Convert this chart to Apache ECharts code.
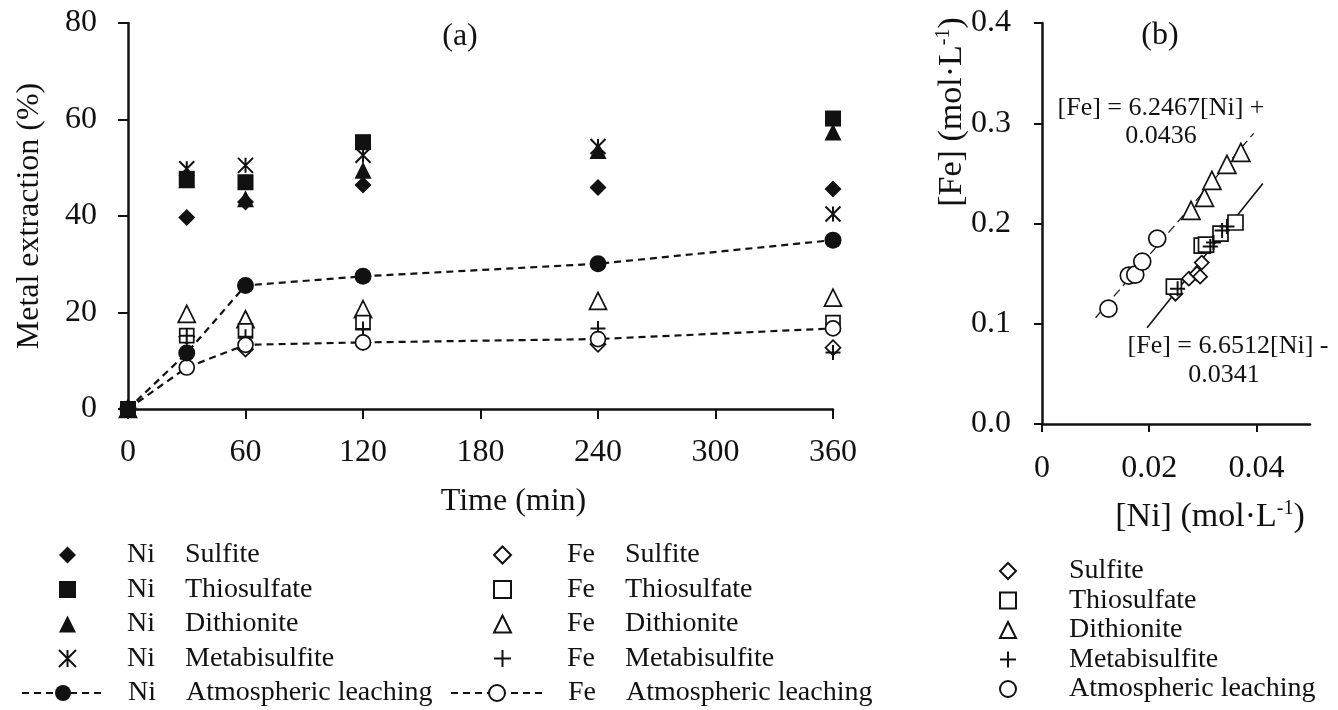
<!DOCTYPE html>
<html>
<head>
<meta charset="utf-8">
<script src="https://cdn.jsdelivr.net/npm/echarts@6/dist/echarts.min.js"></script>
<style>
  html, body { margin: 0; background: #fff; }
  #chart { width: 1338px; height: 710px; }
</style>
</head>
<body>
<div id="chart"></div>
<script>
var FONT = '"Liberation Serif", "Times New Roman", serif';
var INK = '#111';

// (a) metal extraction (%) against time (min)
var timeTicks = [0, 60, 120, 180, 240, 300, 360];
var niSulfite = [[0, 0], [30, 39.7], [60, 42.9], [120, 46.4], [240, 45.9], [360, 45.6]];
var niThiosulfate = [[0, 0], [30, 47.7], [60, 47.0], [120, 55.3], [360, 60.2]];
var niDithionite = [[0, 0], [30, 47.5], [60, 43.6], [120, 49.5], [240, 53.6], [360, 57.4]];
var niMetabisulfite = [[0, 0], [30, 49.8], [60, 50.5], [120, 52.6], [240, 54.4], [360, 40.4]];
var niAtmospheric = [[0, 0], [30, 11.6], [60, 25.6], [120, 27.5], [240, 30.1], [360, 35.0]];
var feSulfite = [[0, 0], [30, 15.0], [60, 12.4], [120, 13.8], [240, 13.4], [360, 12.7]];
var feThiosulfate = [[0, 0], [30, 15.2], [60, 16.2], [120, 17.9], [360, 17.9]];
var feDithionite = [[0, 0], [30, 19.7], [60, 18.6], [120, 20.7], [240, 22.4], [360, 23.1]];
var feMetabisulfite = [[0, 0], [30, 15.2], [60, 15.0], [120, 16.6], [240, 16.7], [360, 11.7]];
var feAtmospheric = [[0, 0], [30, 8.6], [60, 13.3], [120, 13.8], [240, 14.5], [360, 16.7]];

// (b) [Fe] against [Ni], mol/L
var niTicks = [0, 0.02, 0.04];
var bSulfite = [[0.0249, 0.130], [0.0274, 0.145], [0.0289, 0.150], [0.0295, 0.147], [0.0298, 0.161]];
var bThiosulfate = [[0.0246, 0.137], [0.0298, 0.178], [0.0306, 0.179], [0.0333, 0.190], [0.0361, 0.201]];
var bDithionite = [[0.0278, 0.213], [0.0303, 0.226], [0.0317, 0.243], [0.0345, 0.259], [0.0371, 0.271]];
var bMetabisulfite = [[0.0253, 0.135], [0.0314, 0.177], [0.0320, 0.181], [0.0336, 0.193], [0.0345, 0.197]];
var bAtmospheric = [[0.0124, 0.115], [0.0162, 0.148], [0.0174, 0.149], [0.0187, 0.162], [0.0215, 0.185]];
var fitAtmospheric = [[0.0100, 0.106], [0.0395, 0.290]];
var fitOthers = [[0.0196, 0.096], [0.0412, 0.240]];

var ASTERISK = 'path://M0,0L10,10M10,0L0,10M5,0L5,10';
var PLUS = 'path://M5,0L5,10M0,5L10,5';

function marks(name, data, symbol, size, filled, grid) {
  var open = symbol === ASTERISK || symbol === PLUS;
  return {
    name: name, type: 'scatter', data: data,
    xAxisIndex: grid, yAxisIndex: grid,
    symbol: symbol, symbolSize: size,
    itemStyle: open
      ? { color: 'rgba(0,0,0,0)', borderColor: INK, borderWidth: 2, opacity: 1 }
      : (filled ? { color: INK, opacity: 1 } : { color: '#fff', borderColor: INK, borderWidth: 1.7, opacity: 1 }),
    emphasis: { disabled: true }
  };
}

function leach(name, data, filled) {
  return {
    name: name, type: 'line', data: data,
    xAxisIndex: 0, yAxisIndex: 0,
    symbol: 'circle', symbolSize: filled ? 17 : 15, showSymbol: true,
    lineStyle: { color: INK, width: 2.2, type: [7, 5] },
    itemStyle: filled ? { color: INK } : { color: '#fff', borderColor: INK, borderWidth: 1.7 },
    emphasis: { disabled: true }, z: 3
  };
}

function fit(data, dashed) {
  return {
    type: 'line', data: data, xAxisIndex: 1, yAxisIndex: 1,
    showSymbol: false, symbol: 'none', silent: true,
    lineStyle: { color: INK, width: dashed ? 1.2 : 1.6, type: dashed ? [9, 5] : 'solid' },
    z: 1
  };
}

var tickFont = { fontFamily: FONT, fontSize: 32, color: INK };

function legendText(spacer) {
  return {
    formatter: function (name) {
      return '{s| }{m|' + name.slice(0, 2) + '}{n|' + name.slice(3) + '}';
    },
    textStyle: {
      fontFamily: FONT, fontSize: 28, color: INK, lineHeight: 30,
      rich: {
        s: { width: spacer, fontFamily: FONT, fontSize: 28 },
        m: { width: 58, fontFamily: FONT, fontSize: 28, color: INK },
        n: { fontFamily: FONT, fontSize: 28, color: INK }
      }
    }
  };
}

function legend(base, extra) {
  var o = {
    orient: 'vertical', padding: 0, selectedMode: false,
    itemWidth: 17, itemHeight: 17, itemGap: 4.5
  };
  Object.keys(base).forEach(function (k) { o[k] = base[k]; });
  Object.keys(extra).forEach(function (k) { o[k] = extra[k]; });
  return o;
}

var chart = echarts.init(document.getElementById('chart'), null, { renderer: 'canvas' });

chart.setOption({
  backgroundColor: '#fff',
  animation: false,
  grid: [
    { left: 128, top: 23, width: 705, height: 386 },
    { left: 1042, top: 23, width: 268, height: 401 }
  ],
  xAxis: [
    {
      type: 'value', gridIndex: 0, min: 0, max: 360, interval: 60,
      axisLine: { lineStyle: { color: INK, width: 2.5 } },
      axisTick: { length: 10, lineStyle: { color: INK, width: 2 } },
      axisLabel: Object.assign({ margin: 28, customValues: timeTicks }, tickFont),
      splitLine: { show: false },
      name: 'Time (min)', nameLocation: 'middle', nameGap: 77,
      nameTextStyle: { fontFamily: FONT, fontSize: 32, color: INK, padding: [0, 0, 0, 66] }
    },
    {
      type: 'value', gridIndex: 1, min: 0, max: 0.05, interval: 0.01,
      axisLine: { lineStyle: { color: INK, width: 2.5 } },
      axisTick: { length: 8, customValues: niTicks, lineStyle: { color: INK, width: 2 } },
      axisLabel: Object.assign({
        margin: 29, customValues: niTicks,
        formatter: function (v) { return v === 0 ? '0' : String(v); }
      }, tickFont),
      splitLine: { show: false }
    }
  ],
  yAxis: [
    {
      type: 'value', gridIndex: 0, min: 0, max: 80, interval: 20,
      axisLine: { show: true, lineStyle: { color: INK, width: 2.5 } },
      axisTick: { show: true, length: 10, lineStyle: { color: INK, width: 2 } },
      axisLabel: Object.assign({ margin: 31 }, tickFont),
      splitLine: { show: false },
      name: 'Metal extraction (%)', nameLocation: 'middle', nameGap: 82,
      nameTextStyle: { fontFamily: FONT, fontSize: 32, color: INK }
    },
    {
      type: 'value', gridIndex: 1, min: 0, max: 0.4, interval: 0.1,
      axisLine: { show: true, lineStyle: { color: INK, width: 2.5 } },
      axisTick: { show: true, length: 8, lineStyle: { color: INK, width: 2 } },
      axisLabel: Object.assign({
        margin: 31,
        formatter: function (v) { return v.toFixed(1); }
      }, tickFont),
      splitLine: { show: false }
    }
  ],
  legend: [
    legend(legendText(46), { left: 58, top: 540,
      data: ['Ni Sulfite', 'Ni Thiosulfate', 'Ni Dithionite', 'Ni Metabisulfite'] }),
    legend(legendText(19), { left: 21, top: 678, itemWidth: 82, itemHeight: 20,
      data: ['Ni Atmospheric leaching'] }),
    legend(legendText(51), { left: 493, top: 540,
      data: ['Fe Sulfite', 'Fe Thiosulfate', 'Fe Dithionite', 'Fe Metabisulfite'] }),
    legend(legendText(20), { left: 450, top: 678, itemWidth: 92, itemHeight: 20,
      data: ['Fe Atmospheric leaching'] }),
    legend({
      formatter: function (name) { return '{s| }{n|' + name + '}'; },
      textStyle: {
        fontFamily: FONT, fontSize: 28, color: INK, lineHeight: 28,
        rich: {
          s: { width: 48, fontFamily: FONT, fontSize: 28 },
          n: { fontFamily: FONT, fontSize: 28, color: INK }
        }
      }
    }, { left: 999, top: 557, itemWidth: 16, itemHeight: 16, itemGap: 1.5,
      data: ['Sulfite', 'Thiosulfate', 'Dithionite', 'Metabisulfite', 'Atmospheric leaching'] })
  ],
  series: [
    marks('Fe Sulfite', feSulfite, 'diamond', 15, false, 0),
    marks('Fe Dithionite', feDithionite, 'triangle', 17, false, 0),
    marks('Fe Thiosulfate', feThiosulfate, 'rect', 14, false, 0),
    marks('Fe Metabisulfite', feMetabisulfite, PLUS, 15, false, 0),
    leach('Fe Atmospheric leaching', feAtmospheric, false),
    marks('Ni Metabisulfite', niMetabisulfite, ASTERISK, 15, true, 0),
    marks('Ni Dithionite', niDithionite, 'triangle', 17, true, 0),
    marks('Ni Sulfite', niSulfite, 'diamond', 17, true, 0),
    marks('Ni Thiosulfate', niThiosulfate, 'rect', 16, true, 0),
    leach('Ni Atmospheric leaching', niAtmospheric, true),

    fit(fitAtmospheric, true),
    fit(fitOthers, false),
    marks('Sulfite', bSulfite, 'diamond', 14, false, 1),
    marks('Thiosulfate', bThiosulfate, 'rect', 15, false, 1),
    marks('Dithionite', bDithionite, 'triangle', 18, false, 1),
    marks('Metabisulfite', bMetabisulfite, PLUS, 15, false, 1),
    marks('Atmospheric leaching', bAtmospheric, 'circle', 17, false, 1)
  ],
  graphic: [
    { type: 'text', x: 460, y: 37,
      style: { text: '(a)', font: '32px ' + FONT, fill: INK, align: 'center', verticalAlign: 'middle', textAlign: 'center', textVerticalAlign: 'middle' } },
    { type: 'text', x: 1160, y: 36,
      style: { text: '(b)', font: '32px ' + FONT, fill: INK, align: 'center', verticalAlign: 'middle', textAlign: 'center', textVerticalAlign: 'middle' } },
    { type: 'text', x: 1161, y: 108,
      style: { text: '[Fe] = 6.2467[Ni] +', font: '26px ' + FONT, fill: INK, align: 'center', verticalAlign: 'middle', textAlign: 'center', textVerticalAlign: 'middle' } },
    { type: 'text', x: 1161, y: 136,
      style: { text: '0.0436', font: '26px ' + FONT, fill: INK, align: 'center', verticalAlign: 'middle', textAlign: 'center', textVerticalAlign: 'middle' } },
    { type: 'text', x: 1228, y: 346,
      style: { text: '[Fe] = 6.6512[Ni] -', font: '26px ' + FONT, fill: INK, align: 'center', verticalAlign: 'middle', textAlign: 'center', textVerticalAlign: 'middle' } },
    { type: 'text', x: 1224, y: 375,
      style: { text: '0.0341', font: '26px ' + FONT, fill: INK, align: 'center', verticalAlign: 'middle', textAlign: 'center', textVerticalAlign: 'middle' } },
    { type: 'text', x: 1210, y: 517,
      style: {
        text: '{n|[Ni] (mol·L}{s|-1}{n|)}', align: 'center', verticalAlign: 'middle', textAlign: 'center', textVerticalAlign: 'middle',
        rich: {
          n: { fontFamily: FONT, fontSize: 34, fill: INK, color: INK, lineHeight: 36 },
          s: { fontFamily: FONT, fontSize: 20, fill: INK, color: INK, verticalAlign: 'top', lineHeight: 36 }
        }
      } },
    { type: 'text', x: 952, y: 112, rotation: Math.PI / 2,
      style: {
        text: '{n|[Fe] (mol·L}{s|-1}{n|)}', align: 'center', verticalAlign: 'middle', textAlign: 'center', textVerticalAlign: 'middle',
        rich: {
          n: { fontFamily: FONT, fontSize: 34, fill: INK, color: INK, lineHeight: 36 },
          s: { fontFamily: FONT, fontSize: 20, fill: INK, color: INK, verticalAlign: 'top', lineHeight: 36 }
        }
      } }
  ]
});
</script>
</body>
</html>
